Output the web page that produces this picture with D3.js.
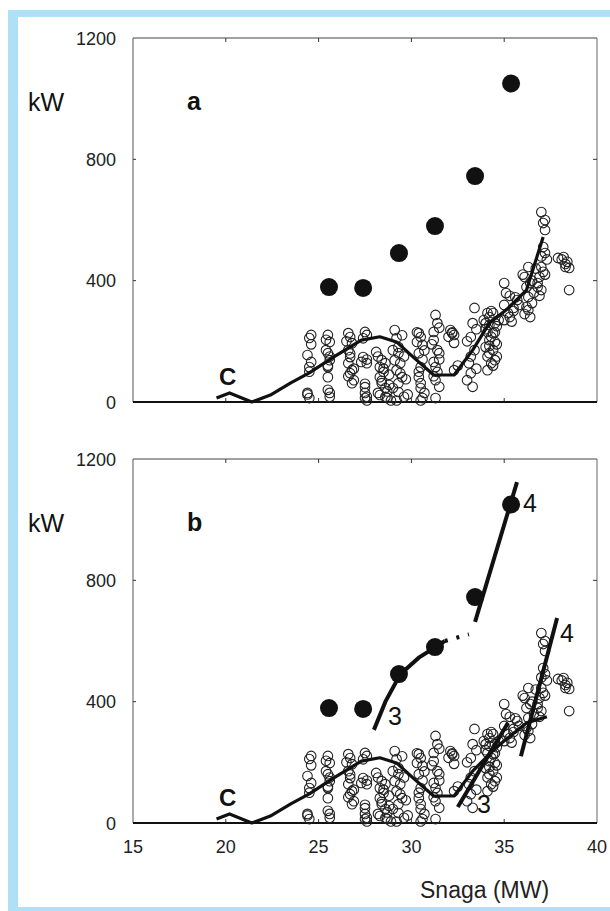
<!DOCTYPE html>
<html>
<head>
<meta charset="utf-8">
<script src="https://cdn.jsdelivr.net/npm/d3@7"></script>
<style>
  body { margin: 0; background: #fff; }
  text { font-family: Arial, "Liberation Sans", sans-serif; }
</style>
</head>
<body>
<div id="chart"></div>
<script>
// x ticks (MW) and y ticks (kW)
var xTicks = [15, 20, 25, 30, 35, 40];
var yTicks = [0, 400, 800, 1200];

// big filled dots
var dotX = [25.56, 27.4, 29.33, 31.27, 33.43, 35.37];
var dotY = [379, 376, 491, 580, 745, 1050];

// open circles (Snaga MW, kW)
var scatX = [24.5, 24.6, 24.4, 24.6, 24.5, 24.4, 24.5, 24.6, 24.5, 24.4,
  25.5, 25.6, 25.4, 25.5, 25.6, 25.5, 25.5, 25.5, 25.6, 25.4, 25.6, 25.5, 25.6,
  26.6, 26.7, 26.8, 26.6, 26.7, 26.6, 26.8, 26.7, 26.9, 26.8, 26.5, 26.7, 26.9, 26.6,
  27.5, 27.6, 27.4, 27.3, 27.6, 27.5, 27.6, 27.5, 27.4, 27.6, 27.5, 27.5, 27.6,
  28.1, 28.4, 28.3, 28.6, 28.5, 28.3, 28.4, 28.6, 28.8, 28.6, 28.3, 28.7, 28.2, 28.5, 28.8, 28.4, 28.7, 28.9, 28.2,
  29.1, 29.2, 29.3, 29.0, 29.3, 29.1, 29.4, 29.2, 29.5, 29.3, 29.0, 29.6, 29.3, 29.5, 29.6, 29.4, 29.7, 29.8, 29.2,
  30.4, 30.5, 30.3, 30.6, 30.4, 30.5, 30.4, 30.5, 30.5, 30.6, 30.3, 30.7, 30.6, 30.4, 30.7, 30.5,
  31.3, 31.4, 31.2, 31.2, 31.4, 31.5, 31.2, 31.3, 31.4, 31.3, 31.3, 31.5, 31.1, 31.5, 31.2, 31.5,
  32.1, 32.2, 32.3, 32.3, 32.0, 32.3, 32.2, 32.5,
  33.4, 33.3, 33.2, 33.4, 33.1, 33.2, 33.0, 33.0, 33.5, 33.2, 33.5, 33.3,
  34.1, 34.2, 34.4, 34.0, 34.2, 34.5, 34.1, 34.4, 34.2, 34.5, 34.0, 34.4, 34.2, 34.5, 34.3, 34.1,
  34.3, 34.0, 34.6, 34.3, 34.6, 34.1, 34.6, 34.4, 34.7, 33.9, 34.5, 34.2,
  35.0, 35.1, 35.0, 35.2, 35.0, 35.5, 35.3, 35.7, 35.3, 35.5, 35.8, 35.4, 35.6,
  36.1, 36.3, 36.4, 36.2, 36.3, 36.5, 36.3, 36.4, 36.2, 36.0, 36.6, 36.5, 36.7, 36.1,
  37.0, 37.1, 37.2, 37.1, 37.2, 37.0, 37.1, 36.9, 36.8, 37.0, 36.8, 37.2, 37.0, 37.3, 37.2, 36.9,
  37.9, 38.2, 38.4, 38.3, 38.5, 38.5, 38.1, 38.3];
var scatY = [211, 221, 155, 132, 115, 30, 13, 190, 100, 25,
  221, 198, 171, 161, 138, 115, 82, 40, 17, 205, 150, 120, 30,
  227, 214, 194, 171, 148, 128, 105, 95, 72, 62, 200, 160, 110, 85,
  231, 221, 148, 132, 128, 49, 17, 13, 210, 140, 60, 30, 5,
  165, 138, 115, 128, 99, 82, 62, 46, 56, 17, 23, 13, 150, 110, 90, 70, 35, 5, 30,
  237, 211, 181, 171, 161, 138, 128, 105, 82, 62, 46, 17, 33, 220, 150, 95, 75, 25, 5,
  227, 214, 198, 188, 161, 115, 82, 62, 46, 13, 230, 170, 140, 100, 30, 5,
  287, 260, 231, 204, 171, 161, 132, 115, 99, 72, 13, 245, 190, 140, 85, 50,
  237, 227, 221, 105, 215, 195, 230, 120,
  310, 260, 214, 171, 128, 95, 72, 200, 240, 150, 110, 50,
  293, 280, 293, 260, 254, 260, 231, 227, 204, 198, 181, 171, 161, 138, 128, 105,
  300, 240, 250, 215, 190, 150, 150, 120, 270, 270, 230, 185,
  392, 359, 320, 293, 270, 310, 280, 336, 350, 300, 320, 265, 345,
  412, 445, 392, 379, 346, 326, 303, 280, 313, 420, 360, 400, 440, 290,
  626, 590, 567, 511, 491, 445, 429, 412, 392, 369, 379, 600, 480, 470, 420, 350,
  475, 478, 462, 445, 442, 369, 470, 455];

// smoothed trend curve "C" (panel a)
var curveAX = [19.5, 20.2, 21.4, 22.4, 23.5, 24.5, 25.8, 27.3, 28.3, 29.2, 30.1, 31.2, 32.3, 33.3, 34.2, 35.1, 36.2, 37.1];
var curveAY = [13, 30, 0, 23, 63, 96, 148, 204, 215, 198, 148, 89, 89, 171, 260, 303, 369, 544];
// panel b: same curve flattening out at the end
var curveBX = [19.5, 20.2, 21.4, 22.4, 23.5, 24.5, 25.8, 27.3, 28.3, 29.2, 30.1, 31.2, 32.3, 33.3, 34.6, 36.2, 37.3];
var curveBY = [13, 30, 0, 23, 63, 96, 148, 204, 215, 198, 148, 89, 89, 171, 251, 330, 350];

// panel b fitted lines
var line3UpX = [27.98, 28.6, 29.4, 30.4, 31.3, 31.8];
var line3UpY = [307, 400, 490, 545, 580, 600];
var dashUpX = [31.8, 33.1];
var dashUpY = [600, 622];
var line4UpX = [33.43, 35.69];
var line4UpY = [663, 1124];
var line3LowX = [32.5, 35.2];
var line3LowY = [53, 330];
var line4LowX = [35.9, 37.85];
var line4LowY = [220, 676];

var W = 610, H = 911;
var svg = d3.select("#chart").append("svg").attr("width", W).attr("height", H);

// light blue frame (top, left, bottom)
svg.append("rect").attr("x", 8).attr("y", 10).attr("width", W - 8).attr("height", H - 10).attr("fill", "#aee0f8");
svg.append("rect").attr("x", 18).attr("y", 17).attr("width", W - 18).attr("height", 890).attr("fill", "#fff");

var x = d3.scaleLinear().domain([15, 40]).range([133, 597]);

function zip(a, b) { return a.map(function(v, i) { return [v, b[i]]; }); }

function drawPanel(top, bottom, letter, withLabels) {
  var y = d3.scaleLinear().domain([0, 1200]).range([bottom, top]);
  var g = svg.append("g");

  // frame lines
  g.append("line").attr("x1", x(15)).attr("x2", x(40)).attr("y1", top).attr("y2", top)
    .attr("stroke", "#444").attr("stroke-width", 1.2);
  g.append("line").attr("x1", x(15)).attr("x2", x(15)).attr("y1", top).attr("y2", bottom)
    .attr("stroke", "#555").attr("stroke-width", 1);
  g.append("line").attr("x1", x(40)).attr("x2", x(40)).attr("y1", top).attr("y2", bottom)
    .attr("stroke", "#666").attr("stroke-width", 1);

  // axis ticks inward
  var inner = [20, 25, 30, 35];
  g.selectAll(".tt").data(inner).join("line")
    .attr("x1", d => x(d)).attr("x2", d => x(d)).attr("y1", top).attr("y2", top + 4)
    .attr("stroke", "#333");
  g.selectAll(".tb").data(inner).join("line")
    .attr("x1", d => x(d)).attr("x2", d => x(d)).attr("y1", bottom).attr("y2", bottom - 4)
    .attr("stroke", "#333");
  g.selectAll(".tr").data([400, 800]).join("line")
    .attr("x1", x(40)).attr("x2", x(40) - 4).attr("y1", d => y(d)).attr("y2", d => y(d))
    .attr("stroke", "#333");
  g.selectAll(".tl").data([400, 800]).join("line")
    .attr("x1", x(15)).attr("x2", x(15) + 3).attr("y1", d => y(d)).attr("y2", d => y(d))
    .attr("stroke", "#333");

  // bottom axis, heavier
  g.append("line").attr("x1", x(15)).attr("x2", x(40)).attr("y1", bottom).attr("y2", bottom)
    .attr("stroke", "#111").attr("stroke-width", 2);

  // y tick labels
  g.selectAll(".yl").data(yTicks).join("text")
    .attr("x", 116).attr("y", d => y(d) + 6.5)
    .attr("text-anchor", "end").attr("font-size", 18).attr("fill", "#222")
    .text(d => d);

  if (withLabels) {
    g.selectAll(".xl").data(xTicks).join("text")
      .attr("x", d => x(d)).attr("y", bottom + 30)
      .attr("text-anchor", "middle").attr("font-size", 18).attr("fill", "#222")
      .text(d => d);
  }

  // kW and panel letter
  g.append("text").attr("x", 28).attr("y", top + 73).attr("font-size", 25).attr("fill", "#111").text("kW");
  g.append("text").attr("x", 187).attr("y", top + 72).attr("font-size", 25).attr("font-weight", "bold")
    .attr("fill", "#111").text(letter);

  // open circles
  g.selectAll(".sc").data(zip(scatX, scatY)).join("circle")
    .attr("cx", d => x(d[0])).attr("cy", d => y(d[1])).attr("r", 4.8)
    .attr("fill", "none").attr("stroke", "#222").attr("stroke-width", 1.1);

  // filled dots
  g.selectAll(".dt").data(zip(dotX, dotY)).join("circle")
    .attr("cx", d => x(d[0])).attr("cy", d => y(d[1])).attr("r", 9)
    .attr("fill", "#111");

  var line = d3.line().x(d => x(d[0])).y(d => y(d[1]));
  var cx = letter == "a" ? curveAX : curveBX;
  var cy = letter == "a" ? curveAY : curveBY;
  g.append("path").attr("d", line(zip(cx, cy))).attr("fill", "none")
    .attr("stroke", "#111").attr("stroke-width", 3.2).attr("stroke-linejoin", "round");

  g.append("text").attr("x", 219).attr("y", y(0) - 17).attr("font-size", 24).attr("font-weight", "bold")
    .attr("fill", "#111").text("C");

  return { g: g, y: y, line: line };
}

drawPanel(38, 402, "a", false);
var pb = drawPanel(459, 823, "b", true);

// fitted lines in panel b
var fits = [[line3UpX, line3UpY], [line4UpX, line4UpY], [line3LowX, line3LowY], [line4LowX, line4LowY]];
fits.forEach(function(f) {
  pb.g.append("path").attr("d", pb.line(zip(f[0], f[1]))).attr("fill", "none")
    .attr("stroke", "#111").attr("stroke-width", 4).attr("stroke-linecap", "butt");
});
pb.g.append("path").attr("d", pb.line(zip(dashUpX, dashUpY))).attr("fill", "none")
  .attr("stroke", "#111").attr("stroke-width", 4).attr("stroke-dasharray", "3,9");

// number labels
var numLabels = [["4", 523, 512], ["4", 560, 642], ["3", 388, 725], ["3", 477, 813]];
pb.g.selectAll(".nl").data(numLabels).join("text")
  .attr("x", d => d[1]).attr("y", d => d[2])
  .attr("font-size", 25).attr("fill", "#111").text(d => d[0]);

svg.append("text").attr("x", 420).attr("y", 898).attr("font-size", 23).attr("fill", "#222").text("Snaga (MW)");
</script>
</body>
</html>
